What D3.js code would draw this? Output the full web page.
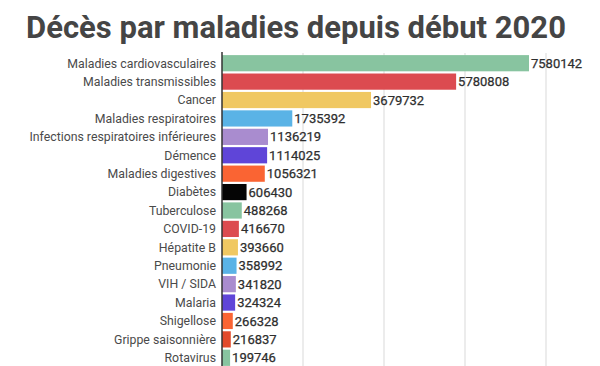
<!DOCTYPE html>
<html>
<head>
<meta charset="utf-8">
<script src="https://cdn.jsdelivr.net/npm/d3@7"></script>
<style>
  body { margin: 0; background: #fff; }
  svg { display: block; font-family: Roboto, sans-serif; }
</style>
</head>
<body>
<svg width="600" height="366"></svg>
<script>
// data
const categories = ["Maladies cardiovasculaires", "Maladies transmissibles", "Cancer",
  "Maladies respiratoires", "Infections respiratoires inférieures", "Démence",
  "Maladies digestives", "Diabètes", "Tuberculose", "COVID-19", "Hépatite B",
  "Pneumonie", "VIH / SIDA", "Malaria", "Shigellose", "Grippe saisonnière", "Rotavirus"];
const deaths = [7580142, 5780808, 3679732, 1735392, 1136219, 1114025, 1056321, 606430,
  488268, 416670, 393660, 358992, 341820, 324324, 266328, 216837, 199746];
const barColors = ["#88c4a0", "#dc4b50", "#f0c862", "#5ab3e6", "#a98ccf", "#5f45d8",
  "#fa6433", "#050505", "#88c4a0", "#dc4b50", "#f0c862", "#5ab3e6", "#a98ccf",
  "#5f45d8", "#fa6433", "#e24a2c", "#88c4a0"];
const gridTicks = [2000000, 4000000, 6000000, 8000000];

const svg = d3.select('svg');

svg.append('text')
  .attr('x', 296).attr('y', 38)
  .attr('text-anchor', 'middle')
  .attr('font-size', 31).attr('font-weight', 700)
  .attr('fill', '#454545')
  .text("Décès par maladies depuis début 2020");

const x = d3.scaleLinear().domain([0, 8000000]).range([222, 546]);
const y = d3.scaleBand().domain(categories).range([54, 367]).paddingInner(0.12).paddingOuter(0.06);

// grid
svg.append('g').selectAll('line').data(gridTicks)
  .enter().append('line')
  .attr('x1', d => x(d)).attr('x2', d => x(d))
  .attr('y1', 53).attr('y2', 366)
  .attr('stroke', '#e6e6e6').attr('stroke-width', 1.5);

const data = categories.map((c, i) => ({ name: c, value: deaths[i], color: barColors[i] }));

svg.append('g').selectAll('rect').data(data)
  .enter().append('rect')
  .attr('x', x(0))
  .attr('y', d => y(d.name))
  .attr('width', d => x(d.value) - x(0))
  .attr('height', y.bandwidth())
  .attr('fill', d => d.color);

// category labels
svg.append('g').selectAll('text').data(data)
  .enter().append('text')
  .attr('x', x(0) - 6)
  .attr('y', d => y(d.name) + y.bandwidth() / 2)
  .attr('dy', '0.35em')
  .attr('text-anchor', 'end')
  .attr('font-size', 12.3)
  .attr('fill', '#4a4a4a')
  .text(d => d.name);

// value labels
svg.append('g').selectAll('text').data(data)
  .enter().append('text')
  .attr('x', d => x(d.value) + 2)
  .attr('y', d => y(d.name) + y.bandwidth() / 2)
  .attr('dy', '0.35em')
  .attr('font-size', 13)
  .attr('fill', '#2e2e2e')
  .attr('stroke', '#2e2e2e').attr('stroke-width', 0.25)
  .text(d => d.value);

// axis line
svg.append('line')
  .attr('x1', x(0)).attr('x2', x(0))
  .attr('y1', 52).attr('y2', 366)
  .attr('stroke', '#333').attr('stroke-width', 1.5);
</script>
</body>
</html>
